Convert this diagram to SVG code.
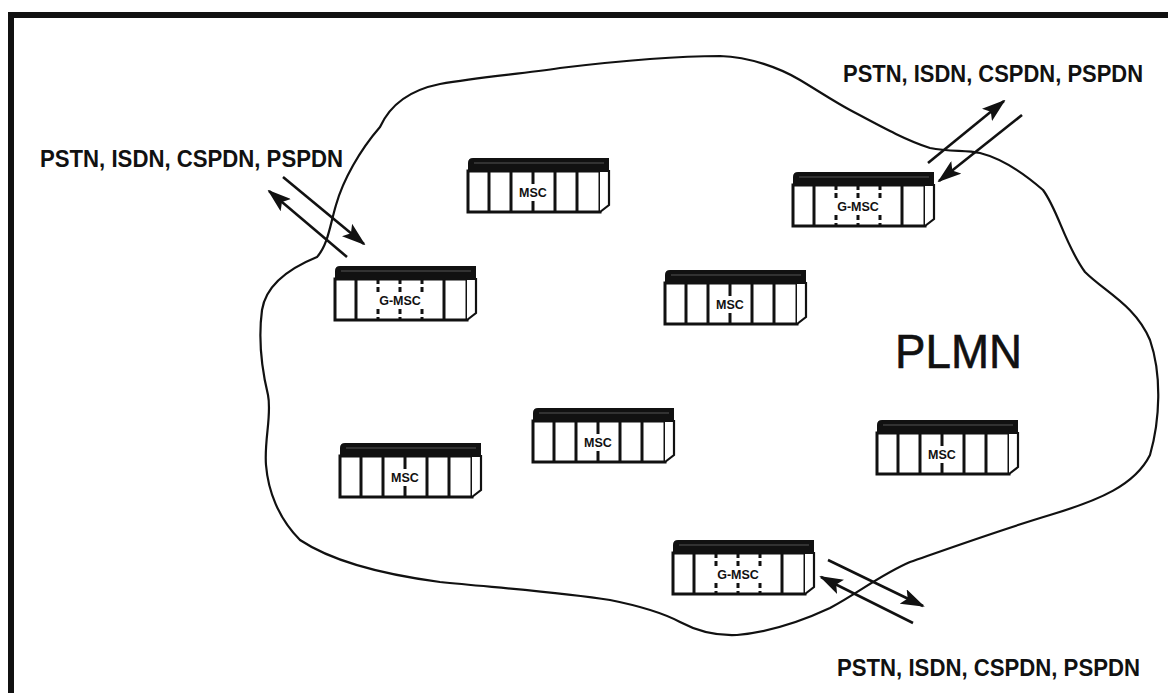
<svg xmlns="http://www.w3.org/2000/svg" xmlns:xlink="http://www.w3.org/1999/xlink" width="1168" height="693" viewBox="0 0 1168 693">
<style>
.lbl{font-family:"Liberation Sans",Arial,sans-serif;font-weight:bold;font-size:23px;fill:#111}
.plmn{font-family:"Liberation Sans",Arial,sans-serif;font-size:48px;fill:#111;stroke:#111;stroke-width:0.6}
.bx{font-family:"Liberation Sans",Arial,sans-serif;font-weight:bold;font-size:12.5px;fill:#111;text-anchor:middle}
.ln{stroke:#111;stroke-width:3;fill:none}
.cloud{stroke:#111;stroke-width:2.2;fill:none;stroke-linejoin:round}
.arr{stroke:#111;stroke-width:2.6;fill:none;marker-end:url(#ah)}
</style>
<defs>
<marker id="ah" viewBox="0 0 24 16" refX="22" refY="8" markerWidth="24" markerHeight="16" markerUnits="userSpaceOnUse" orient="auto">
<path d="M0,0 L24,8 L0,16 L5,8 Z" fill="#111"/>
</marker>
<g id="shell">
<rect x="0" y="13" width="132" height="41" fill="#fff" stroke="#111" stroke-width="3"/>
<path d="M132,13 L141,13 L141,47 L132,54" fill="#fff" stroke="#111" stroke-width="2.2"/>
<path d="M0,5 Q0,0 5,0 L141,0 L141,14 L0,14 Z" fill="#111"/>
<line x1="6" y1="5" x2="136" y2="5" stroke="#555" stroke-width="1"/>
<line x1="21" y1="13" x2="21" y2="54" class="ln"/>
<line x1="109" y1="13" x2="109" y2="54" class="ln"/>
</g>
<g id="msc">
<use xlink:href="#shell"/>
<line x1="43" y1="13" x2="43" y2="54" class="ln"/>
<line x1="87" y1="13" x2="87" y2="54" class="ln"/>
<line x1="65" y1="13" x2="65" y2="26" class="ln"/>
<line x1="65" y1="43" x2="65" y2="54" class="ln"/>
</g>
<g id="gmsc">
<use xlink:href="#shell"/>
<path d="M43,13 V26 M65,13 V26 M87,13 V26 M43,43 V54 M65,43 V54 M87,43 V54" class="ln" stroke-dasharray="5,3"/>
</g>
</defs>
<rect width="1168" height="693" fill="#fff"/>
<g id="frame">
<path d="M11,693 L11,15 L1168,15" fill="none" stroke="#111" stroke-width="6"/>
</g>
<g id="plmn-cloud">
<path class="cloud" d="M380,127 C390,105 410,90 440,84 C480,77 520,74 560,68 C610,62 670,56 720,56 C750,57 780,68 800,80 C820,92 835,102 850,110 C880,126 905,140 930,148 C950,152 965,150 980,153 C1000,158 1020,170 1043,190 C1058,210 1065,245 1085,272 C1105,292 1135,305 1150,340 C1162,375 1160,420 1150,455 C1135,485 1100,500 1050,515 C1000,530 950,548 910,562 C880,575 860,592 830,608 C800,622 770,632 737,635 C715,636 695,630 680,622 C665,614 640,606 610,600 C560,592 500,588 440,582 C380,574 330,560 300,540 C278,518 268,490 266,465 C264,440 272,415 268,395 C262,370 258,340 262,310 C266,285 290,268 317,257 C328,245 330,225 336,205 C343,180 360,150 380,127 Z"/>
</g>
<g id="connectors">
<line class="arr" x1="283" y1="177" x2="364" y2="244"/>
<line class="arr" x1="347" y1="257" x2="269" y2="191"/>
<line class="arr" x1="928" y1="163" x2="1004" y2="101"/>
<line class="arr" x1="1022" y1="115" x2="939" y2="181"/>
<line class="arr" x1="828" y1="560" x2="923" y2="606"/>
<line class="arr" x1="913" y1="623" x2="821" y2="577"/>
</g>
<g id="labels">
<text class="lbl" x="40" y="167" textLength="303" lengthAdjust="spacingAndGlyphs">PSTN, ISDN, CSPDN, PSPDN</text>
<text class="lbl" x="843" y="82" textLength="300" lengthAdjust="spacingAndGlyphs">PSTN, ISDN, CSPDN, PSPDN</text>
<text class="lbl" x="837" y="676" textLength="303" lengthAdjust="spacingAndGlyphs">PSTN, ISDN, CSPDN, PSPDN</text>
<text class="plmn" x="895" y="368" textLength="127" lengthAdjust="spacingAndGlyphs">PLMN</text>
</g>
<g id="node-msc-1" transform="translate(468,158)"><use xlink:href="#msc"/><text class="bx" x="65" y="39">MSC</text></g>
<g id="node-gmsc-2" transform="translate(793,172)"><use xlink:href="#gmsc"/><text class="bx" x="65" y="39">G-MSC</text></g>
<g id="node-gmsc-3" transform="translate(335,266)"><use xlink:href="#gmsc"/><text class="bx" x="65" y="39">G-MSC</text></g>
<g id="node-msc-4" transform="translate(665,270)"><use xlink:href="#msc"/><text class="bx" x="65" y="39">MSC</text></g>
<g id="node-msc-5" transform="translate(533,408)"><use xlink:href="#msc"/><text class="bx" x="65" y="39">MSC</text></g>
<g id="node-msc-6" transform="translate(340,443)"><use xlink:href="#msc"/><text class="bx" x="65" y="39">MSC</text></g>
<g id="node-msc-7" transform="translate(877,420)"><use xlink:href="#msc"/><text class="bx" x="65" y="39">MSC</text></g>
<g id="node-gmsc-8" transform="translate(673,540)"><use xlink:href="#gmsc"/><text class="bx" x="65" y="39">G-MSC</text></g>
</svg>
